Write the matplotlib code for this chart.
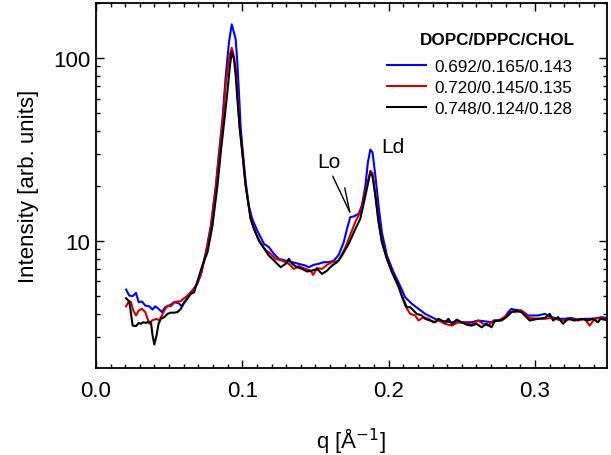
import matplotlib
matplotlib.use("Agg")
import matplotlib.pyplot as plt
from matplotlib.ticker import MultipleLocator, LogLocator, NullFormatter, FixedLocator, FixedFormatter

plt.rcParams['font.family'] = ['Liberation Sans', 'DejaVu Sans']

# ---------------- data ----------------
q_blue = [0.0206,0.0228,0.0251,0.0274,0.0292,0.0315,0.0337,0.0364,0.0387,0.0405,0.0428,0.0451,0.0473,0.0501,
          0.0535,0.0564,0.0587,0.0614,0.0637,0.0659,0.0693,0.0717,0.0751,0.0785,0.0819,0.0841,0.0864,0.0887,
          0.0909,0.0928,0.0943,0.0955,0.0966,0.0977,0.0989,0.1000,0.1023,0.1045,0.1068,0.1102,0.1148,0.1182,
          0.1216,0.1250,0.1296,0.1341,0.1386,0.1432,0.1454,0.1488,0.1522,0.1557,0.1591,0.1625,0.1659,0.1693,
          0.1715,0.1738,0.1761,0.1795,0.1817,0.1841,0.1858,0.1875,0.1890,0.1909,0.1931,0.1954,0.1988,0.2033,
          0.2067,0.2113,0.2158,0.2204,0.2249,0.2294,0.2340,0.2386,0.2431,0.2476,0.2522,0.2567,0.2612,0.2658,
          0.2703,0.2749,0.2794,0.2817,0.2839,0.2862,0.2907,0.2953,0.3021,0.3067,0.3112,0.3157,0.3203,0.3248,
          0.3294,0.3339,0.3385,0.3430,0.3452,0.3480]
I_blue = [5.42,5.02,4.99,5.20,4.62,4.66,4.43,4.39,4.21,4.39,4.25,4.08,4.34,4.43,
          4.62,4.57,4.39,4.72,5.13,5.35,5.82,6.60,8.67,12.1,20.0,30.6,46.0,80.0,
          122.0,153.0,138.0,127.0,95.0,65.0,41.8,33.0,21.0,15.5,13.2,11.4,9.64,9.25,
          8.49,7.98,7.80,7.65,7.49,7.33,7.18,7.40,7.49,7.65,7.65,7.80,8.40,9.84,
          11.6,13.5,13.6,14.1,15.6,20.0,26.9,31.6,30.5,22.8,15.6,11.1,8.32,6.75,
          5.94,4.92,4.53,4.25,3.99,3.83,3.67,3.63,3.59,3.59,3.59,3.59,3.67,3.63,
          3.59,3.67,3.83,4.08,4.25,4.20,4.16,3.91,3.91,3.99,3.83,3.75,3.75,3.79,
          3.71,3.75,3.75,3.79,3.83,3.80]

q_red = [0.0206,0.0224,0.0240,0.0255,0.0274,0.0292,0.0315,0.0337,0.0353,0.0364,0.0383,0.0399,0.0414,0.0433,
         0.0451,0.0467,0.0489,0.0512,0.0535,0.0557,0.0580,0.0603,0.0625,0.0648,0.0678,0.0717,0.0751,0.0785,
         0.0819,0.0841,0.0864,0.0887,0.0909,0.0928,0.0943,0.0955,0.0966,0.0982,0.1000,0.1023,0.1057,0.1080,
         0.1114,0.1159,0.1182,0.1228,0.1272,0.1318,0.1352,0.1386,0.1432,0.1466,0.1484,0.1511,0.1545,0.1579,
         0.1613,0.1659,0.1704,0.1738,0.1772,0.1806,0.1841,0.1875,0.1890,0.1909,0.1931,0.1954,0.1988,0.2022,
         0.2067,0.2113,0.2147,0.2181,0.2204,0.2238,0.2272,0.2306,0.2340,0.2386,0.2431,0.2476,0.2522,0.2567,
         0.2612,0.2646,0.2681,0.2715,0.2760,0.2805,0.2839,0.2862,0.2907,0.2964,0.3021,0.3067,0.3112,0.3157,
         0.3203,0.3248,0.3294,0.3339,0.3373,0.3407,0.3448,0.3480]
I_red = [4.39,4.66,4.62,4.16,3.91,4.16,4.25,4.08,3.75,3.52,3.67,3.71,3.75,3.67,
         3.91,4.16,4.43,4.39,4.62,4.66,4.68,4.86,5.02,5.24,5.59,6.50,8.50,11.8,
         19.5,29.0,43.0,72.0,100.0,114.0,102.0,88.0,66.0,42.0,30.6,20.2,13.3,11.7,
         10.1,8.90,8.67,7.98,7.80,7.49,7.03,7.28,7.03,6.88,6.52,7.10,7.03,7.40,
         7.65,7.80,9.20,10.8,12.7,14.4,18.5,24.2,23.5,17.9,12.8,9.90,8.00,6.80,
         5.59,4.43,3.99,3.91,3.67,3.83,3.75,3.59,3.67,3.52,3.44,3.59,3.56,3.48,
         3.67,3.52,3.44,3.67,3.67,3.91,4.10,4.08,4.16,3.79,3.75,3.75,3.79,3.71,
         3.67,3.75,3.67,3.75,3.44,3.75,3.79,3.75]

q_black = [0.0206,0.0228,0.0251,0.0274,0.0292,0.0308,0.0324,0.0342,0.0360,0.0376,0.0387,0.0399,0.0414,0.0428,
           0.0444,0.0467,0.0489,0.0512,0.0535,0.0557,0.0580,0.0603,0.0625,0.0648,0.0671,0.0693,0.0727,0.0762,
           0.0796,0.0830,0.0853,0.0875,0.0898,0.0915,0.0928,0.0943,0.0955,0.0966,0.0982,0.1000,0.1023,0.1057,
           0.1080,0.1114,0.1159,0.1182,0.1228,0.1262,0.1296,0.1318,0.1341,0.1375,0.1409,0.1443,0.1477,0.1511,
           0.1545,0.1579,0.1613,0.1647,0.1681,0.1727,0.1772,0.1806,0.1841,0.1875,0.1890,0.1909,0.1931,0.1954,
           0.1988,0.2022,0.2067,0.2090,0.2124,0.2147,0.2170,0.2192,0.2226,0.2249,0.2283,0.2317,0.2340,0.2363,
           0.2386,0.2408,0.2431,0.2465,0.2499,0.2533,0.2567,0.2601,0.2635,0.2669,0.2703,0.2726,0.2771,0.2805,
           0.2840,0.2862,0.2907,0.2964,0.3021,0.3067,0.3101,0.3123,0.3157,0.3191,0.3225,0.3271,0.3316,0.3362,
           0.3396,0.3430,0.3448,0.3480]
I_black = [4.86,4.66,3.44,3.42,3.56,3.52,3.59,3.56,3.62,3.59,3.04,2.71,3.04,3.52,
           3.75,3.83,3.99,4.05,4.05,4.08,4.25,4.62,4.82,5.13,5.24,6.00,7.33,8.67,
           12.1,20.0,30.6,44.0,65.0,90.0,108.0,99.0,80.0,60.0,41.8,30.6,20.0,13.2,
           11.6,10.0,8.85,8.32,7.65,7.18,7.49,7.98,7.49,7.18,7.03,6.80,6.88,7.03,
           6.60,6.88,7.33,7.65,8.32,9.64,11.6,13.2,17.7,23.7,22.5,17.7,12.7,9.84,
           7.98,6.75,5.70,5.02,4.34,4.34,4.16,3.99,3.91,3.75,3.67,3.59,3.75,3.67,
           3.59,3.75,3.52,3.71,3.59,3.48,3.44,3.52,3.37,3.52,3.37,3.67,3.67,3.83,
           4.08,4.16,4.08,3.67,3.75,3.79,3.99,3.67,3.83,3.52,3.75,3.67,3.75,3.67,
           3.75,3.59,3.75,3.70]

labels = ["0.692/0.165/0.143", "0.720/0.145/0.135", "0.748/0.124/0.128"]
legend_title = "DOPC/DPPC/CHOL"
colors = ["#0000ff", "#cc0000", "#000000"]

# ---------------- figure ----------------
fig = plt.figure(figsize=(6.11, 4.56), dpi=100)
ax = fig.add_axes([0.157, 0.191, 0.836, 0.800])

series = [(q_blue, I_blue), (q_red, I_red), (q_black, I_black)]
for (qq, ii), c, lab in zip(series, colors, labels):
    ax.plot(qq, ii, color=c, lw=1.5, label=lab)

ax.set_yscale('log')
ax.set_xlim(0.0, 0.349)
ax.set_ylim(2.02, 200)

ax.xaxis.set_minor_locator(MultipleLocator(0.01))
ax.xaxis.set_major_locator(FixedLocator([0.0, 0.1, 0.2, 0.3]))
ax.xaxis.set_major_formatter(FixedFormatter(["0.0", "0.1", "0.2", "0.3"]))
ax.yaxis.set_minor_locator(LogLocator(base=10, subs=range(2, 10)))
ax.yaxis.set_minor_formatter(NullFormatter())
ax.yaxis.set_major_locator(FixedLocator([10, 100]))
ax.yaxis.set_major_formatter(FixedFormatter(["10", "100"]))

ax.tick_params(which='both', direction='in', top=True, right=True, width=1.0, labelsize=16)
ax.tick_params(which='major', length=5.5)
ax.tick_params(which='minor', length=3)
ax.tick_params(axis='x', which='major', pad=9)
ax.tick_params(axis='y', which='major', pad=4)
for s in ax.spines.values():
    s.set_linewidth(1.3)

ax.set_xlabel("q [Å$^{-1}$]", fontsize=16, labelpad=17)
ax.set_ylabel("Intensity [arb. units]", fontsize=16, labelpad=10)

leg = ax.legend(loc='upper left', bbox_to_anchor=(0.556, 0.865),
                frameon=False, fontsize=12.3, handlelength=2.3, handletextpad=0.5,
                labelspacing=0.35, borderaxespad=0)
ax.text(0.937, 0.901, legend_title, transform=ax.transAxes, ha='right', va='center',
        fontsize=12.3, fontweight='bold')

# annotations
ax.text(0.1595, 27.2, "Lo", fontsize=15, ha='center', va='center')
ax.text(0.2030, 32.7, "Ld", fontsize=15, ha='center', va='center')
ax.annotate("", xy=(0.1734, 14.4), xytext=(0.1618, 22.6),
            arrowprops=dict(arrowstyle='-', lw=1.0, color='black', shrinkA=0, shrinkB=0))
ax.annotate("", xy=(0.1734, 14.4), xytext=(0.1700, 19.5),
            arrowprops=dict(arrowstyle='-', lw=1.0, color='black', shrinkA=0, shrinkB=0))

fig.savefig("out.png", dpi=100)
